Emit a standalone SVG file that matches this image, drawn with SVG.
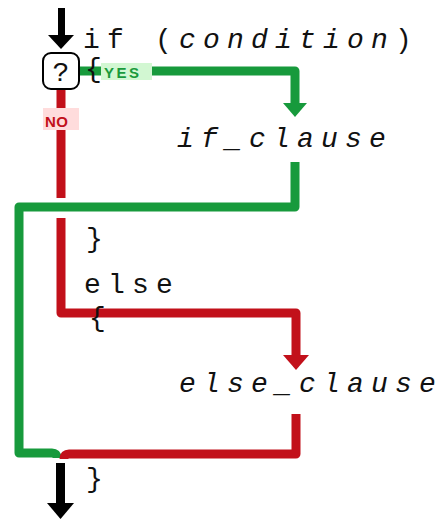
<svg xmlns="http://www.w3.org/2000/svg" width="446" height="520" viewBox="0 0 446 520">
  <style>
    .code { font-family: "Liberation Mono", "DejaVu Sans Mono", monospace; font-size: 28px; letter-spacing: 7.2px; fill: #111; }
    .brace { letter-spacing: 0; }
    .it { font-style: italic; }
    .flow { fill: none; stroke-width: 9; stroke-linejoin: round; stroke-linecap: butt; }
    .yes { stroke: #179a3c; }
    .no { stroke: #c2101a; }
    .yesfill { fill: #179a3c; }
    .nofill { fill: #c2101a; }
    .tag { font-family: "Liberation Sans", Arial, sans-serif; font-weight: bold; font-size: 15px; }
  </style>
  <rect width="446" height="520" fill="#ffffff"/>

  <!-- flow lines: yes branch (green), no branch (red), entry and exit arrows (black) -->
  <g id="connectors">
    <!-- entry arrow -->
    <rect x="58" y="8" width="7" height="29" fill="#000"/>
    <polygon points="48,35 74,35 61,49" fill="#000"/>

    <!-- condition true: into if_clause -->
    <path class="flow yes" d="M78 71 H295 V104"/>
    <polygon class="yesfill" points="283,103 307,103 295,117"/>

    <!-- condition false: into else_clause (broken where the green return crosses) -->
    <path class="flow no" d="M61 90 V198"/>
    <path class="flow no" d="M61 218 V313 H296 V356"/>
    <polygon class="nofill" points="283,355 309,355 296,370"/>

    <!-- return from if_clause -->
    <path class="flow yes" d="M295 162 V207 H19 V453 H52 Q57 453 57 458"/>

    <!-- return from else_clause -->
    <path class="flow no" d="M296 414 V454 H69 Q64 454 64 459"/>

    <!-- exit arrow -->
    <rect x="56" y="463" width="9" height="42" fill="#000"/>
    <polygon points="47,503 74,503 60.5,519" fill="#000"/>
  </g>

  <!-- decision box -->
  <g id="decision">
    <rect x="43" y="53" width="36" height="36" rx="8" fill="#fff" stroke="#000" stroke-width="2"/>
    <text x="61" y="81" text-anchor="middle" font-family="Liberation Mono, monospace" font-size="28" fill="#111">?</text>
  </g>

  <g id="label-yes">
    <rect x="101" y="63" width="51" height="17" fill="#d2f7d2"/>
    <text class="tag" x="104" y="78" fill="#1a9a3c" font-size="16" letter-spacing="2.5">YES</text>
  </g>

  <g id="label-no">
    <rect x="43" y="108" width="36" height="22" fill="#ffdcdc"/>
    <text class="tag" x="45" y="127" fill="#c2101a" font-size="18" letter-spacing="0.5">NO</text>
  </g>

  <!-- source text -->
  <g id="if-line">
    <text class="code" x="83" y="48">if (<tspan class="it">condition</tspan>)</text>
  </g>
  <g id="open-if">
    <text class="code brace" x="85" y="77">{</text>
  </g>
  <g id="if-clause">
    <text class="code it" x="177" y="147">if_clause</text>
  </g>
  <g id="close-if">
    <text class="code brace" x="86" y="247">}</text>
  </g>
  <g id="else-line">
    <text class="code" x="84" y="293">else</text>
  </g>
  <g id="open-else">
    <text class="code brace" x="89" y="326">{</text>
  </g>
  <g id="else-clause">
    <text class="code it" x="179" y="392">else_clause</text>
  </g>
  <g id="close-else">
    <text class="code brace" x="86" y="487">}</text>
  </g>
</svg>
